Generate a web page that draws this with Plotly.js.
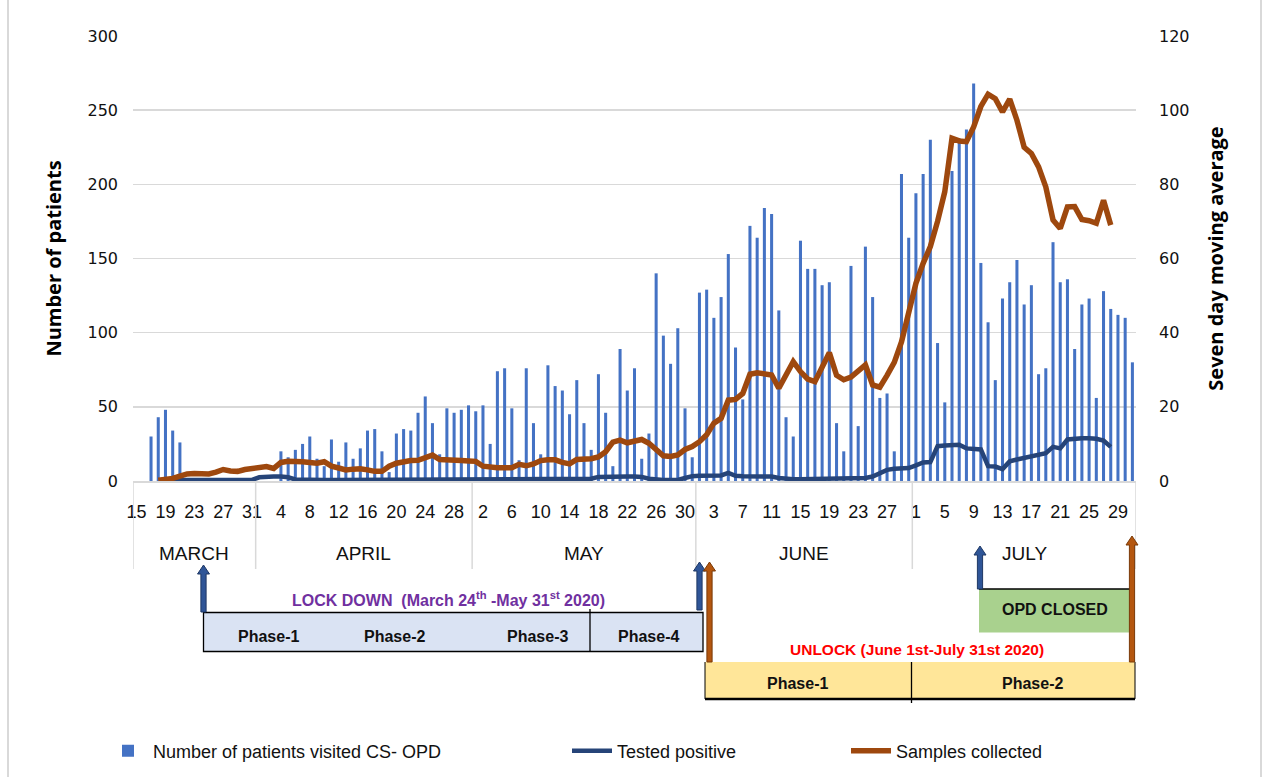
<!DOCTYPE html>
<html>
<head>
<meta charset="utf-8">
<script src="https://cdn.plot.ly/plotly-3.0.1.min.js"></script>
<style>html,body{margin:0;padding:0;background:#fff;}#chart{width:1266px;height:777px;}</style>
</head>
<body>
<div id="chart"></div>
<script>
// ---- Data ----
const monthNames = ["MARCH", "APRIL", "MAY", "JUNE", "JULY"];
const monthFirstDay = [15, 1, 1, 1, 1];
const monthLastDay = [31, 30, 31, 30, 31];

// Number of patients visited CS-OPD (daily)
const patientsMar = [0,0,30,43,48,34,26,0,0,0,0,0,0,0,0,0,0];
const patientsApr = [0,0,0,20,16,21,25,30,15,10,28,13,26,15,22,34,35,20,6,32,35,34,46,57,39,18,49,46,48,51];
const patientsMay = [47,51,25,74,76,49,14,76,39,18,78,64,61,45,68,39,21,72,46,10,89,61,76,15,32,140,98,79,103,49,16];
const patientsJun = [127,129,110,124,153,90,55,172,164,184,180,115,43,30,162,143,143,132,134,39,20,145,37,158,124,56,59,20,207,164];
const patientsJul = [194,207,230,93,53,209,231,237,268,147,107,68,123,134,149,119,132,72,76,161,134,136,89,119,123,56,128,116,112,110,80];

// Tested positive (seven day moving average, right axis)
const positiveMar = [null,null,null,null,null,0.3,0.3,0.3,0.3,0.3,0.3,0.3,0.3,0.3,0.3,0.3,0.3];
const positiveApr = [1.0,1.2,1.2,1.2,1.0,0.4,0.3,0.3,0.3,0.3,0.3,0.3,0.3,0.3,0.3,0.3,0.3,0.3,0.3,0.3,0.3,0.3,0.3,0.3,0.3,0.3,0.3,0.3,0.3,0.3];
const positiveMay = [0.3,0.3,0.3,0.3,0.3,0.3,0.3,0.3,0.3,0.3,0.3,0.3,0.3,0.3,0.3,0.3,0.6,1.1,1.2,1.2,1.2,1.2,1.2,1.1,0.6,0.3,0.3,0.3,0.3,0.8,1.3];
const positiveJun = [1.4,1.4,1.4,1.5,2.2,1.4,1.3,1.3,1.3,1.3,1.2,0.8,0.5,0.5,0.5,0.5,0.5,0.5,0.5,0.5,0.5,0.5,0.6,0.8,1.2,2.0,3.0,3.3,3.5,3.5];
const positiveJul = [4.2,5.0,5.1,9.4,9.6,9.7,9.8,8.8,8.8,8.5,4.0,3.9,3.2,5.3,5.8,6.2,6.6,7.0,7.5,9.2,8.8,11.2,11.5,11.5,11.5,11.4,10.9,9.2,null,null,null];

// Samples collected (seven day moving average, right axis)
const samplesMar = [null,null,null,0.2,0.4,0.7,1.3,1.9,2.0,1.9,1.9,2.4,3.1,2.7,2.6,3.1,3.3];
const samplesApr = [3.7,3.9,3.4,5.0,5.3,5.4,5.2,5.0,4.8,5.2,4.0,3.5,3.0,3.2,3.3,3.0,2.6,2.6,4.0,4.8,5.2,5.5,5.6,6.2,7.0,5.8,5.6,5.6,5.5,5.4];
const samplesMay = [5.3,4.0,3.7,3.6,3.6,3.6,4.5,4.1,4.6,5.5,5.7,5.7,5.0,4.6,5.8,5.9,6.0,6.5,7.9,10.5,11.0,10.3,10.9,11.2,10.2,8.5,6.8,6.6,7.0,8.5,9.3];
const samplesJun = [10.6,12.5,15.6,16.9,21.8,22.0,23.6,28.8,29.2,29.0,28.6,25.0,28.5,32.2,29.5,27.5,26.8,31.0,34.6,28.5,27.3,28.0,29.5,31.3,25.9,25.3,28.5,32.0,37.5,46.0];
const samplesJul = [53.3,58.7,63.2,70.0,78.0,92.4,91.7,91.5,95.5,101.0,104.3,103.1,99.5,103.0,97.3,90.0,88.3,84.7,79.3,70.4,68.1,73.9,74.0,70.5,70.2,69.5,75.7,69.0,null,null,null];

// ---- Assemble ----
const patients = [].concat(patientsMar, patientsApr, patientsMay, patientsJun, patientsJul);
const positive = [].concat(positiveMar, positiveApr, positiveMay, positiveJun, positiveJul);
const samples = [].concat(samplesMar, samplesApr, samplesMay, samplesJun, samplesJul);

const dayNum = [], monthOf = [];
monthNames.forEach((m, k) => {
  for (let d = monthFirstDay[k]; d <= monthLastDay[k]; d++) { dayNum.push(d); monthOf.push(k); }
});
const xs = dayNum.map((_, i) => i);
const tickvals = xs.filter(i => i % 4 === 0);
const ticktext = tickvals.map(i => String(dayNum[i]));

// month boundaries in axis units
const monthBounds = [-0.5];
monthNames.forEach((m, k) => { monthBounds.push(monthOf.lastIndexOf(k) + 0.5); });

// ---- Pixel helpers for the decorations below the plot ----
const PL = 133, PR = 1136, PT = 36, PB = 481;
const px = x => (x - PL) / (PR - PL);
const py = y => (PB - y) / (PB - PT);
const pxd = d => d / (PR - PL);
const pyd = d => d / (PB - PT);

const FONT = "DejaVu Sans, Arial, sans-serif";
const NARROW = "Liberation Sans Narrow, Arial Narrow, Liberation Sans, Arial, sans-serif";
const BOLD = "Liberation Sans, Arial, sans-serif";
const TITLEF = "Open Sans, DejaVu Sans, sans-serif";

const traces = [
  {
    type: "bar", x: xs, y: patients, name: "Number of patients visited CS- OPD",
    marker: {color: "#4472c4"}, width: 0.42, yaxis: "y", legend: "legend",
    hoverinfo: "y"
  },
  {
    type: "scatter", mode: "lines", x: xs, y: positive, name: "Tested positive",
    line: {color: "#264478", width: 4.5}, yaxis: "y2", legend: "legend2", connectgaps: false
  },
  {
    type: "scatter", mode: "lines", x: xs, y: samples, name: "Samples collected",
    line: {color: "#9e480e", width: 5.5}, yaxis: "y2", legend: "legend3", connectgaps: false
  }
];

const shapes = [];
const annotations = [];

// month separators
monthBounds.forEach(b => {
  shapes.push({type: "line", xref: "x", yref: "paper", x0: b, x1: b, y0: 0, y1: py(569),
    line: {color: "#d9d9d9", width: 1.5}});
});
// month labels
monthNames.forEach((m, k) => {
  const c = (monthBounds[k] + monthBounds[k + 1]) / 2;
  annotations.push({xref: "x", yref: "paper", x: c, y: py(553), text: m, showarrow: false,
    font: {family: NARROW, size: 19, color: "#111"}, xanchor: "center", yanchor: "middle"});
});

// outer chart border (left / right)
[8, 1261].forEach(xx => shapes.push({type: "line", xref: "paper", yref: "paper",
  x0: px(xx), x1: px(xx), y0: py(0), y1: py(777), line: {color: "#d9d9d9", width: 2}}));

// Lock down box
shapes.push({type: "rect", xref: "paper", yref: "paper", x0: px(203.5), x1: px(703), y0: py(612.5), y1: py(651.5),
  fillcolor: "#dae3f3", line: {color: "#000", width: 1.3}});
shapes.push({type: "line", xref: "paper", yref: "paper", x0: px(590), x1: px(590), y0: py(609), y1: py(651.5),
  line: {color: "#000", width: 1.3}});
// OPD closed box
shapes.push({type: "rect", xref: "paper", yref: "paper", x0: px(979), x1: px(1130), y0: py(589), y1: py(632.5),
  fillcolor: "#a9d18e", line: {width: 0}});
shapes.push({type: "line", xref: "paper", yref: "paper", x0: px(979), x1: px(1130), y0: py(589), y1: py(589),
  line: {color: "#000", width: 1.3}});
// Unlock box
shapes.push({type: "rect", xref: "paper", yref: "paper", x0: px(705), x1: px(1135), y0: py(662), y1: py(699),
  fillcolor: "#ffe699", line: {width: 0}});
shapes.push({type: "line", xref: "paper", yref: "paper", x0: px(705), x1: px(705), y0: py(662), y1: py(699), line: {color: "#000", width: 1}});
shapes.push({type: "line", xref: "paper", yref: "paper", x0: px(1135), x1: px(1135), y0: py(662), y1: py(699), line: {color: "#000", width: 1}});
shapes.push({type: "line", xref: "paper", yref: "paper", x0: px(705), x1: px(1135), y0: py(699), y1: py(699), line: {color: "#000", width: 2.5}});
shapes.push({type: "line", xref: "paper", yref: "paper", x0: px(911.5), x1: px(911.5), y0: py(662), y1: py(703), line: {color: "#000", width: 1.3}});

// Block arrows (shaft + head)
function arrow(x, yHead, yTail, color, edge) {
  const hw = 6, hh = 9, sw = 2.6;
  const X = px(x);
  // shaft as filled rectangle
  shapes.push({type: "path", xref: "paper", yref: "paper",
    path: "M" + (X - pxd(sw)) + "," + py(yTail) + " L" + (X - pxd(sw)) + "," + py(yHead + hh) +
          " L" + (X - pxd(hw)) + "," + py(yHead + hh) + " L" + X + "," + py(yHead) +
          " L" + (X + pxd(hw)) + "," + py(yHead + hh) + " L" + (X + pxd(sw)) + "," + py(yHead + hh) +
          " L" + (X + pxd(sw)) + "," + py(yTail) + " Z",
    fillcolor: color, line: {color: edge, width: 1}});
}
arrow(203.5, 565, 612, "#2f5597", "#1f3864");
arrow(699.5, 562, 610, "#2f5597", "#1f3864");
arrow(709.5, 562, 662, "#b4560f", "#7a3a08");
arrow(980, 546, 589, "#2f5597", "#1f3864");
arrow(1132, 536, 662, "#b4560f", "#7a3a08");

// Texts
function label(x, y, text, size, color) {
  annotations.push({xref: "paper", yref: "paper", x: px(x), y: py(y), text: text, showarrow: false,
    xanchor: "center", yanchor: "middle", font: {family: BOLD, size: size, color: color}});
}
label(448, 599, "<b>LOCK DOWN&nbsp;&nbsp;(March 24<sup>th</sup> -May 31<sup>st</sup> 2020)</b>", 16, "#7030a0");
label(268, 636, "<b>Phase-1</b>", 16, "#111");
label(394, 636, "<b>Phase-2</b>", 16, "#111");
label(537, 636, "<b>Phase-3</b>", 16, "#111");
label(648, 636, "<b>Phase-4</b>", 16, "#111");
label(1055, 609, "<b>OPD CLOSED</b>", 16, "#111");
label(917, 649, "<b>UNLOCK (June 1st-July 31st 2020)</b>", 15.5, "#ff0000");
label(797, 683, "<b>Phase-1</b>", 16, "#111");
label(1032, 683, "<b>Phase-2</b>", 16, "#111");

const legendCommon = {orientation: "h", xanchor: "left", yanchor: "middle", y: py(751),
  font: {family: BOLD, size: 18, color: "#111"}, bgcolor: "rgba(0,0,0,0)", borderwidth: 0, itemwidth: 40};

const layout = {
  width: 1266, height: 777,
  margin: {l: PL, r: 1266 - PR, t: PT, b: 777 - PB, autoexpand: false},
  paper_bgcolor: "#fff", plot_bgcolor: "#fff",
  showlegend: true,
  legend: Object.assign({}, legendCommon, {x: px(103)}),
  legend2: Object.assign({}, legendCommon, {x: px(567)}),
  legend3: Object.assign({}, legendCommon, {x: px(846)}),
  xaxis: {
    range: [-0.5, dayNum.length - 0.5], tickmode: "array", tickvals: tickvals, ticktext: ticktext,
    showgrid: false, zeroline: false, showline: true, linecolor: "#d9d9d9", linewidth: 1.5,
    ticks: "", tickfont: {family: NARROW, size: 18, color: "#111"}, ticklabelstandoff: 14, tickangle: 0
  },
  yaxis: {
    range: [0, 300], dtick: 50, tick0: 0, showgrid: true, gridcolor: "#d9d9d9", gridwidth: 1.5,
    zeroline: false, showline: false, ticks: "", ticklabelstandoff: 14,
    tickfont: {family: FONT, size: 16, color: "#111"},
    title: {text: "<b>Number of patients</b>", font: {family: TITLEF, size: 20, color: "#000"}, standoff: 20}
  },
  yaxis2: {
    range: [0, 120], dtick: 20, tick0: 0, overlaying: "y", side: "right", showgrid: false,
    zeroline: false, showline: false, ticks: "", ticklabelstandoff: 22,
    tickfont: {family: FONT, size: 16, color: "#111"},
    title: {text: "<b>Seven day moving average</b>", font: {family: TITLEF, size: 20, color: "#000"}, standoff: 20}
  },
  shapes: shapes,
  annotations: annotations
};

Plotly.newPlot("chart", traces, layout, {displayModeBar: false, staticPlot: true});
</script>
</body>
</html>
